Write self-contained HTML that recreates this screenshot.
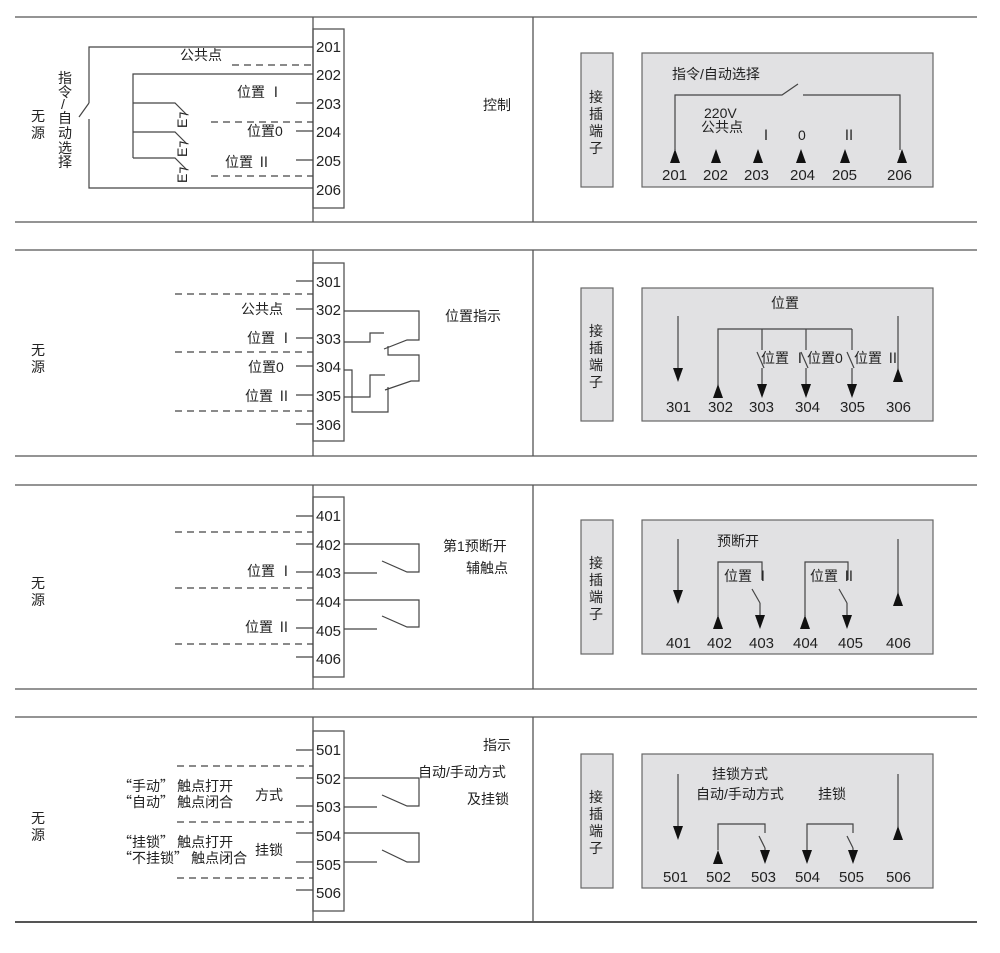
<!DOCTYPE html>
<html><head><meta charset="utf-8"><style>
html,body{margin:0;padding:0;background:#fff;}
svg{display:block;}
text{font-family:"Liberation Sans","Noto Sans CJK SC",sans-serif;fill:#222;font-size:14px;}
.n text{font-size:15px;}
.q{font-family:"Noto Sans CJK SC",sans-serif;}
</style></head><body>
<svg width="1000" height="953" viewBox="0 0 1000 953" xmlns="http://www.w3.org/2000/svg">
<defs>
<g id="tu"><polygon points="0,0 -5,14 5,14" fill="#111"/></g>
<g id="td"><polygon points="0,0 -5,-14 5,-14" fill="#111"/></g>
</defs>
<g stroke="#555" stroke-width="1.3" fill="none">
<line x1="15" y1="17" x2="977" y2="17"/>
<line x1="15" y1="222" x2="977" y2="222"/>
<line x1="15" y1="250" x2="977" y2="250"/>
<line x1="15" y1="456" x2="977" y2="456"/>
<line x1="15" y1="485" x2="977" y2="485"/>
<line x1="15" y1="689" x2="977" y2="689"/>
<line x1="15" y1="717" x2="977" y2="717"/>
<line x1="15" y1="922" x2="977" y2="922" stroke-width="2"/>
<line x1="533" y1="17" x2="533" y2="222"/>
<line x1="533" y1="250" x2="533" y2="456"/>
<line x1="533" y1="485" x2="533" y2="689"/>
<line x1="533" y1="717" x2="533" y2="922"/>
<line x1="313" y1="17" x2="313" y2="222"/>
<line x1="313" y1="250" x2="313" y2="456"/>
<line x1="313" y1="485" x2="313" y2="689"/>
<line x1="313" y1="717" x2="313" y2="922"/>
<rect x="313" y="29" width="31" height="179"/>
<rect x="313" y="263" width="31" height="178"/>
<rect x="313" y="497" width="31" height="180"/>
<rect x="313" y="731" width="31" height="180"/>
</g>
<g stroke="#666" stroke-width="1.2" fill="#e1e1e3">
<rect x="581" y="53" width="32" height="134"/>
<rect x="642" y="53" width="291" height="134"/>
<rect x="581" y="288" width="32" height="133"/>
<rect x="642" y="288" width="291" height="133"/>
<rect x="581" y="520" width="32" height="134"/>
<rect x="642" y="520" width="291" height="134"/>
<rect x="581" y="754" width="32" height="134"/>
<rect x="642" y="754" width="291" height="134"/>
</g>
<g font-size="14">
<text x="589" y="102">接</text><text x="589" y="119">插</text><text x="589" y="136">端</text><text x="589" y="153">子</text>
<text x="589" y="336">接</text><text x="589" y="353">插</text><text x="589" y="370">端</text><text x="589" y="387">子</text>
<text x="589" y="568">接</text><text x="589" y="585">插</text><text x="589" y="602">端</text><text x="589" y="619">子</text>
<text x="589" y="802">接</text><text x="589" y="819">插</text><text x="589" y="836">端</text><text x="589" y="853">子</text>
</g>

<!-- SECTION 1 -->
<g stroke="#444" stroke-width="1.2" fill="none">
<polyline points="313,47 89,47 89,103"/>
<line x1="89" y1="103" x2="79" y2="117"/>
<polyline points="89,119 89,188 313,188"/>
<polyline points="313,74 133,74 133,158"/>
<polyline points="133,103 175,103 187,115"/>
<polyline points="133,132 175,132 187,144"/>
<polyline points="133,158 175,158 187,170"/>
<line x1="296" y1="103" x2="313" y2="103"/>
<line x1="296" y1="131" x2="313" y2="131"/>
<line x1="296" y1="160" x2="313" y2="160"/>
</g>
<g stroke="#444" stroke-width="1.2" fill="none" stroke-dasharray="7,5">
<line x1="232" y1="65" x2="313" y2="65"/>
<line x1="211" y1="122" x2="313" y2="122"/>
<line x1="211" y1="176" x2="313" y2="176"/>
</g>
<g font-size="10">
<text transform="translate(187,128) rotate(-90)">E⁊</text>
<text transform="translate(187,157) rotate(-90)">E⁊</text>
<text transform="translate(187,183) rotate(-90)">E⁊</text>
</g>
<text x="180" y="60">公共点</text>
<text x="237" y="97">位置 Ⅰ</text>
<text x="247" y="136">位置0</text>
<text x="225" y="167">位置 Ⅱ</text>
<text x="31" y="121" font-size="15">无</text><text x="31" y="138" font-size="15">源</text>
<text x="58" y="83">指</text><text x="58" y="97">令</text><text x="61" y="109" font-size="12">/</text>
<text x="58" y="123">自</text><text x="58" y="138">动</text><text x="58" y="153">选</text><text x="58" y="167">择</text>
<text x="483" y="110">控制</text>
<g class="n"><text x="316" y="52">201</text><text x="316" y="80">202</text><text x="316" y="109">203</text><text x="316" y="137">204</text><text x="316" y="166">205</text><text x="316" y="195">206</text></g>
<text x="672" y="79">指令/自动选择</text>
<g stroke="#444" stroke-width="1.2" fill="none">
<polyline points="675,150 675,95 782,95 798,84"/>
<polyline points="803,95 900,95 900,150"/>
</g>
<use href="#tu" x="675" y="149"/><use href="#tu" x="716" y="149"/><use href="#tu" x="758" y="149"/>
<use href="#tu" x="801" y="149"/><use href="#tu" x="845" y="149"/><use href="#tu" x="902" y="149"/>
<text x="704" y="118" font-size="12">220V</text><text x="701" y="132" font-size="12">公共点</text>
<text x="759" y="140" font-size="13">Ⅰ</text><text x="798" y="140" font-size="13">0</text><text x="842" y="140" font-size="13">Ⅱ</text>
<g class="n"><text x="662" y="180">201</text><text x="703" y="180">202</text><text x="744" y="180">203</text><text x="790" y="180">204</text><text x="832" y="180">205</text><text x="887" y="180">206</text></g>

<!-- SECTION 2 -->
<g stroke="#444" stroke-width="1.2" fill="none">
<line x1="296" y1="281" x2="313" y2="281"/>
<line x1="296" y1="309" x2="313" y2="309"/>
<line x1="296" y1="338" x2="313" y2="338"/>
<line x1="296" y1="366" x2="313" y2="366"/>
<line x1="296" y1="395" x2="313" y2="395"/>
<line x1="296" y1="424" x2="313" y2="424"/>
<polyline points="344,311 419,311 419,340 407,340 384,349"/>
<polyline points="344,342 370,342 370,333 384,333"/>
<polyline points="388,346 388,355 419,355 419,381 411,381 385,390"/>
<polyline points="344,370 352,370 352,412 388,412 388,387"/>
<polyline points="344,397 370,397 370,375 385,375"/>
</g>
<g stroke="#444" stroke-width="1.2" fill="none" stroke-dasharray="7,5">
<line x1="175" y1="294" x2="313" y2="294"/>
<line x1="175" y1="352" x2="313" y2="352"/>
<line x1="175" y1="411" x2="313" y2="411"/>
</g>
<text x="241" y="314">公共点</text>
<text x="247" y="343">位置 Ⅰ</text>
<text x="248" y="372">位置0</text>
<text x="245" y="401">位置 Ⅱ</text>
<text x="31" y="355" font-size="15">无</text><text x="31" y="372" font-size="15">源</text>
<text x="445" y="321">位置指示</text>
<g class="n"><text x="316" y="287">301</text><text x="316" y="315">302</text><text x="316" y="344">303</text><text x="316" y="372">304</text><text x="316" y="401">305</text><text x="316" y="430">306</text></g>
<text x="771" y="308">位置</text>
<g stroke="#444" stroke-width="1.2" fill="none">
<line x1="678" y1="316" x2="678" y2="370"/>
<polyline points="718,386 718,329 852,329"/>
<line x1="762" y1="329" x2="762" y2="350"/><line x1="757" y1="352" x2="764" y2="368"/><line x1="762" y1="368" x2="762" y2="386"/>
<line x1="806" y1="329" x2="806" y2="350"/><line x1="801" y1="352" x2="808" y2="368"/><line x1="806" y1="368" x2="806" y2="386"/>
<line x1="852" y1="329" x2="852" y2="350"/><line x1="847" y1="352" x2="854" y2="368"/><line x1="852" y1="368" x2="852" y2="386"/>
<line x1="898" y1="316" x2="898" y2="372"/>
</g>
<use href="#td" x="678" y="382"/>
<use href="#tu" x="718" y="384"/>
<use href="#td" x="762" y="398"/><use href="#td" x="806" y="398"/><use href="#td" x="852" y="398"/>
<use href="#tu" x="898" y="368"/>
<text x="761" y="363" font-size="12">位置 Ⅰ</text><text x="807" y="363" font-size="12">位置0</text><text x="854" y="363" font-size="12">位置 Ⅱ</text>
<g class="n"><text x="666" y="412">301</text><text x="708" y="412">302</text><text x="749" y="412">303</text><text x="795" y="412">304</text><text x="840" y="412">305</text><text x="886" y="412">306</text></g>

<!-- SECTION 3 -->
<g stroke="#444" stroke-width="1.2" fill="none">
<line x1="296" y1="516" x2="313" y2="516"/>
<line x1="296" y1="544" x2="313" y2="544"/>
<line x1="296" y1="572" x2="313" y2="572"/>
<line x1="296" y1="600" x2="313" y2="600"/>
<line x1="296" y1="628" x2="313" y2="628"/>
<line x1="296" y1="657" x2="313" y2="657"/>
<polyline points="344,544 419,544 419,572 407,572 382,561"/>
<line x1="344" y1="573" x2="377" y2="573"/>
<polyline points="344,600 419,600 419,627 407,627 382,616"/>
<line x1="344" y1="629" x2="377" y2="629"/>
</g>
<g stroke="#444" stroke-width="1.2" fill="none" stroke-dasharray="7,5">
<line x1="175" y1="532" x2="313" y2="532"/>
<line x1="175" y1="588" x2="313" y2="588"/>
<line x1="175" y1="644" x2="313" y2="644"/>
</g>
<text x="247" y="576">位置 Ⅰ</text>
<text x="245" y="632">位置 Ⅱ</text>
<text x="31" y="588" font-size="15">无</text><text x="31" y="605" font-size="15">源</text>
<text x="443" y="551">第1预断开</text><text x="466" y="573">辅触点</text>
<g class="n"><text x="316" y="521">401</text><text x="316" y="550">402</text><text x="316" y="578">403</text><text x="316" y="607">404</text><text x="316" y="636">405</text><text x="316" y="664">406</text></g>
<text x="717" y="546">预断开</text>
<g stroke="#444" stroke-width="1.2" fill="none">
<line x1="678" y1="539" x2="678" y2="590"/>
<polyline points="718,616 718,562 762,562 762,580"/>
<line x1="752" y1="589" x2="760" y2="603"/><line x1="760" y1="603" x2="760" y2="622"/>
<polyline points="805,616 805,562 848,562 848,580"/>
<line x1="839" y1="589" x2="847" y2="603"/><line x1="847" y1="603" x2="847" y2="622"/>
<line x1="898" y1="539" x2="898" y2="596"/>
</g>
<use href="#td" x="678" y="604"/>
<use href="#tu" x="718" y="615"/><use href="#td" x="760" y="629"/>
<use href="#tu" x="805" y="615"/><use href="#td" x="847" y="629"/>
<use href="#tu" x="898" y="592"/>
<text x="724" y="581" font-size="12">位置 Ⅰ</text><text x="810" y="581" font-size="12">位置 Ⅱ</text>
<g class="n"><text x="666" y="648">401</text><text x="707" y="648">402</text><text x="749" y="648">403</text><text x="793" y="648">404</text><text x="838" y="648">405</text><text x="886" y="648">406</text></g>

<!-- SECTION 4 -->
<g stroke="#444" stroke-width="1.2" fill="none">
<line x1="296" y1="750" x2="313" y2="750"/>
<line x1="296" y1="778" x2="313" y2="778"/>
<line x1="296" y1="806" x2="313" y2="806"/>
<line x1="296" y1="833" x2="313" y2="833"/>
<line x1="296" y1="862" x2="313" y2="862"/>
<line x1="296" y1="890" x2="313" y2="890"/>
<polyline points="344,778 419,778 419,806 407,806 382,795"/>
<line x1="344" y1="807" x2="377" y2="807"/>
<polyline points="344,833 419,833 419,862 407,862 382,850"/>
<line x1="344" y1="862" x2="377" y2="862"/>
</g>
<g stroke="#444" stroke-width="1.2" fill="none" stroke-dasharray="7,5">
<line x1="177" y1="766" x2="313" y2="766"/>
<line x1="177" y1="822" x2="313" y2="822"/>
<line x1="177" y1="878" x2="313" y2="878"/>
</g>
<text x="118" y="791" class="q">“手动” 触点打开</text>
<text x="118" y="807" class="q">“自动” 触点闭合</text>
<text x="255" y="800">方式</text>
<text x="118" y="847" class="q">“挂锁” 触点打开</text>
<text x="118" y="863" class="q">“不挂锁” 触点闭合</text>
<text x="255" y="855">挂锁</text>
<text x="31" y="823" font-size="15">无</text><text x="31" y="840" font-size="15">源</text>
<text x="483" y="750">指示</text><text x="418" y="777">自动/手动方式</text><text x="467" y="804">及挂锁</text>
<g class="n"><text x="316" y="755">501</text><text x="316" y="784">502</text><text x="316" y="812">503</text><text x="316" y="841">504</text><text x="316" y="870">505</text><text x="316" y="898">506</text></g>
<text x="712" y="779">挂锁方式</text><text x="696" y="799">自动/手动方式</text><text x="818" y="799">挂锁</text>
<g stroke="#444" stroke-width="1.2" fill="none">
<line x1="678" y1="774" x2="678" y2="826"/>
<polyline points="718,850 718,824 765,824 765,833"/>
<line x1="759" y1="836" x2="765" y2="848"/><line x1="765" y1="848" x2="765" y2="856"/>
<polyline points="807,856 807,824 853,824 853,833"/>
<line x1="847" y1="836" x2="853" y2="848"/><line x1="853" y1="848" x2="853" y2="856"/>
<line x1="898" y1="774" x2="898" y2="830"/>
</g>
<use href="#td" x="678" y="840"/>
<use href="#tu" x="718" y="850"/><use href="#td" x="765" y="864"/>
<use href="#td" x="807" y="864"/><use href="#td" x="853" y="864"/>
<use href="#tu" x="898" y="826"/>
<g class="n"><text x="663" y="882">501</text><text x="706" y="882">502</text><text x="751" y="882">503</text><text x="795" y="882">504</text><text x="839" y="882">505</text><text x="886" y="882">506</text></g>
</svg>
</body></html>
